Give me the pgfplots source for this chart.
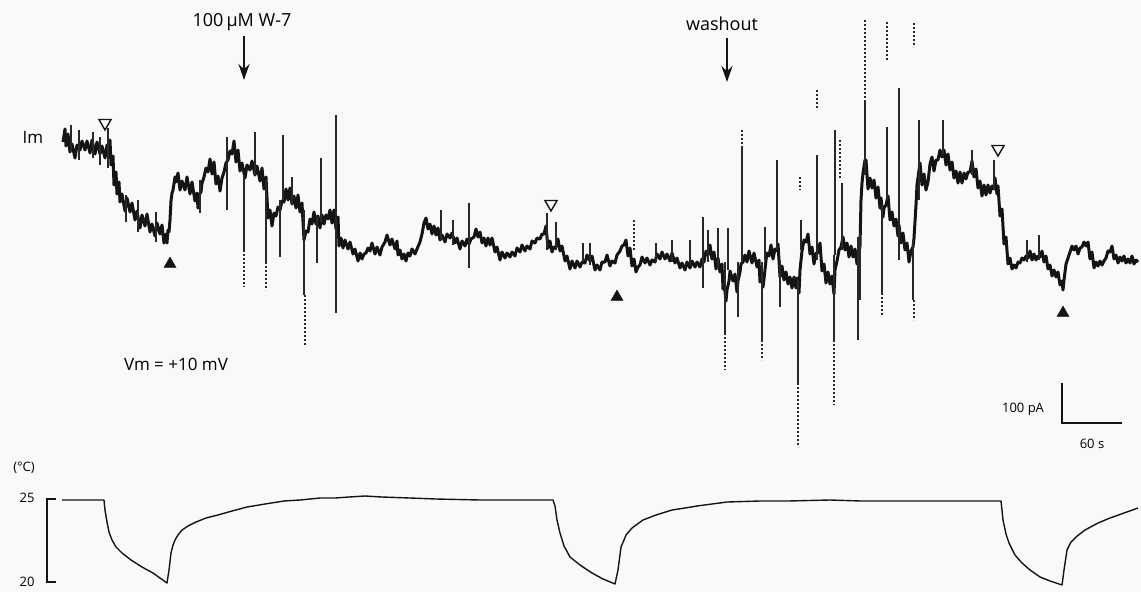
\documentclass[border=0pt]{standalone}
\usepackage{pgfplots}
\pgfplotsset{compat=1.18}
\usepackage{fontspec}
\setmainfont{Open Sans}
\usetikzlibrary{arrows.meta}
\definecolor{paper}{RGB}{250,249,247}
\definecolor{ink}{RGB}{20,20,20}
\definecolor{spike}{RGB}{40,40,40}

\begin{document}
\begin{tikzpicture}
\begin{axis}[
  x=1pt, y=1pt, y dir=reverse,
  xmin=0, xmax=1141, ymin=0, ymax=592,
  hide axis, clip=false, scale only axis,
  unbounded coords=jump,
]
% page background
\fill[paper] (axis cs:0,0) rectangle (axis cs:1141,592);

% membrane current trace (Im), plot units
\addplot[ink, line width=3pt, line join=round] coordinates {
(63,142) (65,129) (66,146) (68,134) (70,152) (72,144) (75,158) (77,145)
(80,150) (82,141) (85,150) (87,141) (90,153) (92,140) (95,154) (97,142)
(100,154) (102,146) (105,158) (107,145) (108,149) (110,140) (111,165) (113,156)
(114,185) (116,172) (117,194) (119,182) (120,202) (122,194) (125,211) (127,198)
(130,212) (132,203) (135,220) (137,211) (140,228) (142,215) (145,226) (147,214)
(150,232) (152,224) (155,236) (157,223) (160,234) (162,225) (164,243) (166,234)
(167,243) (168,230) (169,232) (170,220) (171,201) (172,193) (173,190) (175,177)
(176,182) (178,173) (180,190) (182,181) (185,190) (187,177) (190,194) (192,182)
(195,201) (197,193) (198,208) (199,195) (201,192) (202,183) (204,177) (206,168)
(208,172) (210,159) (212,174) (214,162) (216,184) (218,176) (220,191) (222,178)
(224,172) (226,163) (228,160) (230,151) (232,154) (234,141) (236,162) (238,150)
(240,171) (242,163) (245,178) (247,165) (250,170) (252,161) (255,175) (257,166)
(260,181) (262,168) (264,189) (266,177) (268,218) (270,210) (272,226) (274,213)
(276,216) (278,207) (280,210) (282,201) (284,202) (286,189) (288,200) (290,188)
(292,204) (294,196) (296,208) (298,195) (300,212) (302,203) (304,240) (306,231)
(308,232) (310,219) (312,224) (314,212) (316,224) (318,216) (320,228) (322,215)
(324,224) (326,215) (328,219) (330,210) (332,223) (334,210) (336,229) (338,217)
(339,246) (341,238)
(343,248) (345,240) (348,249) (350,242) (353,254) (355,249) (358,261) (360,253)
(362,259) (364,254) (366,253) (368,248) (370,251) (372,243) (375,254) (377,247)
(380,255) (382,247) (385,242) (387,235) (390,245) (392,239) (395,249) (397,241)
(398,255) (400,250) (402,259) (404,254) (406,261) (408,253) (410,256) (412,249)
(415,254) (417,249) (420,242) (422,234) (424,223) (426,218) (428,229) (430,224)
(432,234) (434,226) (436,235) (438,228) (440,240) (442,235) (445,242) (447,234)
(450,238) (452,233) (455,243) (457,238) (460,249) (462,241) (465,246) (467,239)
(469,244) (471,239) (474,237) (476,229) (478,237) (480,232) (482,243) (484,238)
(486,246) (488,238) (490,245) (492,238) (495,252) (497,247) (500,260) (502,252)
(505,258) (507,253) (510,257) (512,252) (515,256) (517,248) (520,252) (522,245)
(525,251) (527,246) (530,249) (532,241) (535,243) (537,238) (540,239) (542,234)
(544,234) (546,226) (548,248) (550,241) (552,252) (554,247) (556,247) (558,239)
(560,251) (562,246) (565,261) (567,256) (570,269) (572,261) (575,268) (577,261)
(580,267) (582,262) (585,263) (587,255) (590,261) (592,256) (595,270) (597,265)
(600,270) (602,262) (605,262) (607,255) (610,266) (612,261) (615,263) (617,255)
(620,251) (622,246) (624,245) (626,240) (628,256) (630,248) (632,266) (634,259)
(636,272) (638,267) (640,265) (642,257) (645,263) (647,258) (650,265) (652,260)
(655,262) (657,254) (660,259) (662,252) (665,259) (667,254) (670,261) (672,253)
(675,263) (677,258) (680,268) (682,263) (685,270) (687,262) (690,268) (692,261)
(695,267) (697,262) (700,267) (702,259)
(704,262) (706,251) (708,255) (710,245) (712,259) (714,252) (716,269) (718,258)
(720,272) (722,264) (723,289) (724,282) (726,301) (727,290) (729,281) (730,271)
(733,281) (735,274) (737,292) (738,281) (740,272) (741,264) (743,262) (745,255)
(747,262) (749,251) (752,263) (754,253) (757,267) (759,260) (760,282) (761,271)
(763,287) (764,279) (766,260) (767,253) (769,256) (771,245) (773,259) (775,249)
(777,251) (778,244) (780,277) (782,266) (784,280) (786,272) (788,284) (790,277)
(792,288) (794,277) (796,288) (797,278) (799,293) (800,270) (802,251) (804,240)
(806,242) (808,234) (810,254) (812,247) (814,264) (816,253) (818,253) (820,243)
(822,271) (824,264) (826,283) (828,272) (830,284) (832,276) (834,294) (835,270)
(837,261) (839,250) (841,247) (843,237) (845,250) (847,243) (849,257) (851,246)
(853,257) (855,249) (857,264) (858,257) (860,246) (861,200) (862,183) (863,173)
(865,160) (866,160) (868,189) (870,178) (872,188) (874,180) (876,198) (878,187)
(880,208) (881,198) (883,217) (884,208) (886,205) (888,196) (890,220) (892,212)
(894,226) (896,219) (898,236) (899,225) (901,243) (903,233) (905,250) (907,243)
(909,262) (911,251) (913,247) (914,238) (916,205) (917,185) (919,170) (920,163)
(922,185) (924,174) (926,190) (928,182) (930,164) (932,157) (934,171) (936,160)
(938,160) (940,150) (942,157) (944,150) (946,165) (948,154) (950,170) (952,162)
(954,178) (956,171) (958,183) (960,172) (962,183) (964,173) (966,179) (968,172)
(970,172) (972,161) (974,177) (976,169) (978,188) (980,181) (982,196) (984,185)
(986,195) (988,185) (990,193) (992,186) (994,189) (995,178) (997,194) (998,186)
(1000,216) (1002,209)
(1004,244) (1006,237) (1008,264) (1010,258) (1012,269) (1014,265) (1016,268) (1018,262)
(1020,263) (1022,258) (1024,260) (1026,256) (1028,258) (1030,251) (1032,260) (1034,254)
(1036,260) (1038,256) (1040,257) (1042,251) (1044,262) (1046,256) (1048,269) (1050,265)
(1052,276) (1054,270) (1056,277) (1058,272) (1060,285) (1062,281) (1063,290) (1064,280)
(1066,264) (1068,258) (1070,252) (1072,246) (1074,250) (1076,246) (1078,254) (1080,248)
(1082,247) (1084,242) (1086,246) (1088,242) (1090,259) (1092,252) (1094,268) (1096,262)
(1098,266) (1100,261) (1102,265) (1104,261) (1106,258) (1108,251) (1110,252) (1112,246)
(1114,259) (1116,255) (1118,263) (1120,257) (1122,261) (1124,256) (1126,263) (1128,259)
(1130,263) (1132,256) (1134,264) (1136,260) (1138,262)
};

% fast transients on the current trace
\addplot[spike, line width=1.4pt] coordinates {
(71,125) (71,152) (72,nan) (79,130) (79,160) (80,nan) (93,132) (93,158) (94,nan)
(100,137) (100,165) (101,nan) (108,128) (108,168) (109,nan) (126,195) (126,222) (127,nan)
(138,200) (138,232) (139,nan) (156,212) (156,242) (157,nan) (200,180) (200,213) (201,nan)
(227,137) (227,210) (228,nan) (244,175) (244,250) (245,nan) (255,132) (255,175) (256,nan)
(266,180) (266,262) (267,nan) (280,200) (280,257) (281,nan) (283,135) (283,200) (284,nan)
(292,177) (292,205) (293,nan) (304,210) (304,295) (305,nan) (317,215) (317,263) (318,nan)
(321,158) (321,222) (322,nan) (336,115) (336,313) (337,nan) (441,210) (441,240) (442,nan)
(453,220) (453,245) (454,nan) (469,203) (469,268) (470,nan) (547,213) (547,250) (548,nan)
(556,222) (556,250) (557,nan) (583,243) (583,262) (584,nan) (590,243) (590,265) (591,nan)
(656,243) (656,262) (657,nan) (672,240) (672,262) (673,nan) (690,240) (690,265) (691,nan)
(703,217) (703,288) (704,nan) (708,230) (708,262) (709,nan) (718,228) (718,268) (719,nan)
(725,262) (725,333) (726,nan) (728,228) (728,270) (729,nan) (738,262) (738,317) (739,nan)
(742,148) (742,262) (743,nan) (762,262) (762,340) (763,nan) (765,227) (765,260) (766,nan)
(777,160) (777,250) (778,nan) (780,260) (780,307) (781,nan) (798,280) (798,383) (799,nan)
(801,220) (801,250) (802,nan) (817,155) (817,260) (818,nan) (835,130) (835,255) (836,nan)
(834,255) (834,340) (835,nan) (842,183) (842,250) (843,nan) (858,237) (858,340) (859,nan)
(860,233) (860,300) (861,nan) (865,100) (865,175) (866,nan) (882,205) (882,293) (883,nan)
(887,127) (887,200) (888,nan) (899,88) (899,260) (900,nan) (913,240) (913,300) (914,nan)
(919,120) (919,200) (920,nan) (943,120) (943,155) (944,nan) (972,150) (972,175) (973,nan)
(994,160) (994,190) (995,nan) (1027,240) (1027,262) (1028,nan) (1039,235) (1039,260) (1040,nan)
};

% faint, partly resolved ends of the largest transients
\addplot[spike, line width=1.2pt, dash pattern=on 1.8pt off 2.2pt] coordinates {
(244,250) (244,287) (245,nan) (266,262) (266,290) (267,nan) (305,295) (305,345) (306,nan)
(634,220) (634,250) (635,nan) (725,333) (725,370) (726,nan) (742,130) (742,148) (743,nan)
(762,340) (762,360) (763,nan) (798,383) (798,447) (799,nan) (800,177) (800,190) (801,nan)
(817,90) (817,110) (818,nan) (834,340) (834,405) (835,nan) (840,140) (840,180) (841,nan)
(865,20) (865,100) (866,nan) (882,293) (882,315) (883,nan) (887,22) (887,60) (888,nan)
(914,23) (914,47) (915,nan) (914,300) (914,320) (915,nan)
};

% bath temperature
\addplot[ink, line width=1.4pt, line join=round] coordinates {
(62,500) (104,500) (105,510) (107,522) (109,532) (112,540) (116,547) (122,553)
(131,560) (142,567) (153,573) (160,578) (167,583) (169,570) (171,553) (173,545)
(175,540) (178,535) (182,530) (188,526) (196,522) (206,518) (218,515) (232,511)
(247,507) (265,504) (284,501) (300,500) (320,498) (335,498) (349,497) (365,496)
(382,497) (410,498) (436,499) (480,500) (520,500) (553,500) (555,506) (557,520)
(560,533) (564,546) (570,557) (580,565) (592,573) (603,579) (615,584) (618,570)
(621,547) (624,540) (626,535) (632,528) (643,520) (656,515) (672,510) (685,508)
(697,506) (712,504) (727,502) (760,501) (788,501) (830,500) (861,501) (900,501)
(934,501) (970,501) (1001,501) (1003,520) (1006,534) (1009,543) (1015,555) (1022,563)
(1030,570) (1040,577) (1050,581) (1062,585) (1064,570) (1067,550) (1071,542) (1076,537)
(1085,530) (1098,523) (1110,518) (1124,513) (1138,508)
};

% open triangles: start of cooling
\addplot[only marks, mark=triangle, mark size=7pt, ink, line width=1.4pt,
  mark options={rotate=180}] coordinates {(105,123) (551,204) (998,149)};
% filled triangles: start of rewarming
\addplot[only marks, mark=triangle*, mark size=7pt, ink] coordinates {(170,264) (617,297) (1063,313)};

% annotations
\node[font=\fontsize{18}{20}\selectfont] at (axis cs:242,22) {100\,µM W-7};
\draw[ink, line width=2.8pt, -{Stealth[length=16pt,width=11pt]}] (axis cs:244,36) -- (axis cs:244,80);
\node[font=\fontsize{18}{20}\selectfont] at (axis cs:722,24) {washout};
\draw[ink, line width=2.8pt, -{Stealth[length=16pt,width=11pt]}] (axis cs:727,38) -- (axis cs:727,82);
\node[font=\fontsize{17}{20}\selectfont] at (axis cs:33,137) {Im};
\node[font=\fontsize{17}{20}\selectfont] at (axis cs:176,364) {Vm = +10 mV};

% scale bars
\draw[ink, line width=2.2pt] (axis cs:1062,383) -- (axis cs:1062,423) -- (axis cs:1122,423);
\node[font=\fontsize{13}{15}\selectfont] at (axis cs:1023,409) {100 pA};
\node[font=\fontsize{13}{15}\selectfont] at (axis cs:1092,444) {60 s};
\draw[ink, line width=2.8pt] (axis cs:56,499) -- (axis cs:47,499) -- (axis cs:47,582) -- (axis cs:56,582);
\node[font=\fontsize{13}{15}\selectfont] at (axis cs:24,468) {(°C)};
\node[font=\fontsize{13}{15}\selectfont] at (axis cs:27,498) {25};
\node[font=\fontsize{13}{15}\selectfont] at (axis cs:27,582) {20};
\end{axis}
\end{tikzpicture}
\end{document}
